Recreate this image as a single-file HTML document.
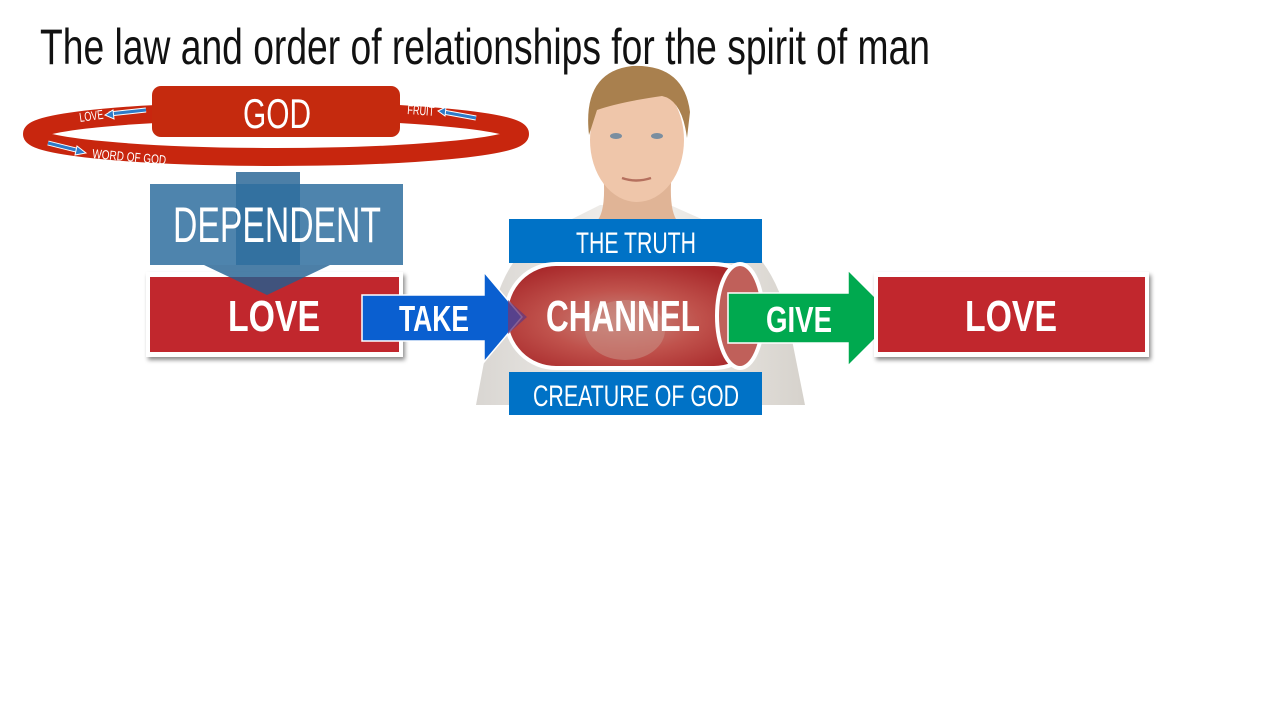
<!DOCTYPE html>
<html><head><meta charset="utf-8"><style>
html,body{margin:0;padding:0;background:#fff;width:1280px;height:720px;overflow:hidden}
svg{display:block}
text{font-family:"Liberation Sans",sans-serif}
</style></head><body>
<svg width="1280" height="720" viewBox="0 0 1280 720" xmlns="http://www.w3.org/2000/svg">
<defs>
<filter id="sh" x="-10%" y="-10%" width="130%" height="140%"><feDropShadow dx="2" dy="3" stdDeviation="2" flood-opacity="0.45"/></filter>
<radialGradient id="eye" cx="0.45" cy="0.55" r="0.6"><stop offset="0" stop-color="#c98a80"/><stop offset="0.5" stop-color="#c0524c"/><stop offset="1" stop-color="#a8282a"/></radialGradient>
<linearGradient id="shirt" x1="0" y1="0" x2="1" y2="0"><stop offset="0" stop-color="#d9d6d2"/><stop offset="0.5" stop-color="#f4f2ef"/><stop offset="1" stop-color="#d6d2cc"/></linearGradient>
</defs>
<text x="40" y="64" font-size="50" font-weight="300" fill="#111" textLength="890" lengthAdjust="spacingAndGlyphs">The law and order of relationships for the spirit of man</text>

<!-- ring -->
<ellipse cx="276" cy="134" rx="244" ry="23" fill="none" stroke="#c8260e" stroke-width="18"/>
<rect x="152" y="86" width="248" height="51" rx="9" fill="#c52a0e"/>
<text x="277" y="128" font-size="42" fill="#fff" text-anchor="middle" textLength="68" lengthAdjust="spacingAndGlyphs">GOD</text>
<text x="80" y="122" font-size="13" fill="#fff" transform="rotate(-8 80 122)" textLength="24" lengthAdjust="spacingAndGlyphs">LOVE</text>
<path d="M109 114 L146 110" stroke="#fff" stroke-width="5"/><path d="M109 114 L146 110" stroke="#2f7bc8" stroke-width="3"/><path d="M105 115 l8 -5 l1 9z" fill="#2f7bc8" stroke="#fff" stroke-width="1"/>
<text x="407" y="114" font-size="13" fill="#fff" transform="rotate(4 407 114)" textLength="27" lengthAdjust="spacingAndGlyphs">FRUIT</text>
<path d="M443 112 L476 118" stroke="#fff" stroke-width="5"/><path d="M443 112 L476 118" stroke="#2f7bc8" stroke-width="3"/><path d="M438 111 l8 -4 l-1 9z" fill="#2f7bc8" stroke="#fff" stroke-width="1"/>
<path d="M48 143 L80 151" stroke="#fff" stroke-width="5"/><path d="M48 143 L80 151" stroke="#2f7bc8" stroke-width="3"/><path d="M86 153 l-9 -7 l-2 9z" fill="#2f7bc8" stroke="#fff" stroke-width="1"/>
<text x="92" y="158" font-size="13" fill="#fff" transform="rotate(5 92 158)" textLength="74" lengthAdjust="spacingAndGlyphs">WORD OF GOD</text>

<!-- LOVE left -->
<rect x="146" y="272" width="257" height="85" fill="#fff" filter="url(#sh)"/>
<rect x="150" y="277" width="249" height="75" fill="#c1272d"/>
<!-- dependent arrow -->
<path d="M236 172 H300 V265 H330 L267 295 L204 265 H236 Z" fill="#1f5f91" opacity="0.8"/>
<rect x="150" y="184" width="253" height="81" fill="#2f6e9f" opacity="0.85"/>
<text x="277" y="242" font-size="50" fill="#fff" text-anchor="middle" textLength="208" lengthAdjust="spacingAndGlyphs">DEPENDENT</text>
<text x="274" y="331" font-size="44" font-weight="bold" fill="#fff" text-anchor="middle" textLength="92" lengthAdjust="spacingAndGlyphs">LOVE</text>

<!-- person -->
<path d="M476 405 L490 330 Q500 250 560 225 L600 205 L670 205 L715 225 Q775 250 790 330 L805 405 Z" fill="url(#shirt)"/>
<path d="M603 170 Q607 212 596 222 L678 222 Q668 210 672 170 Z" fill="#e0b496"/>
<ellipse cx="637" cy="140" rx="47" ry="62" fill="#efc6aa"/>
<path d="M589 135 Q582 72 632 66 Q684 64 690 112 L687 138 Q682 100 662 96 Q620 102 597 110 Z" fill="#a9804e"/>
<ellipse cx="616" cy="136" rx="6" ry="3" fill="#7a8ea0"/><ellipse cx="657" cy="136" rx="6" ry="3" fill="#7a8ea0"/>
<path d="M622 178 Q636 183 651 178" stroke="#b5705e" stroke-width="2.5" fill="none"/>

<!-- truth / creature -->
<rect x="509" y="219" width="253" height="44" fill="#0072c6"/>
<text x="636" y="253" font-size="30" fill="#fff" text-anchor="middle" textLength="120" lengthAdjust="spacingAndGlyphs">THE TRUTH</text>
<rect x="509" y="372" width="253" height="43" fill="#0072c6"/>
<text x="636" y="406" font-size="30" fill="#fff" text-anchor="middle" textLength="206" lengthAdjust="spacingAndGlyphs">CREATURE OF GOD</text>

<!-- channel -->
<rect x="506" y="264" width="258" height="104" rx="50" fill="url(#eye)" stroke="#fff" stroke-width="4"/>
<ellipse cx="740" cy="316" rx="23" ry="52" fill="#c0605a" stroke="#fff" stroke-width="4"/>
<ellipse cx="625" cy="330" rx="40" ry="30" fill="#c88a80" opacity="0.6"/>
<text x="623" y="331" font-size="44" font-weight="bold" fill="#fff" text-anchor="middle" textLength="154" lengthAdjust="spacingAndGlyphs">CHANNEL</text>

<!-- take arrow -->
<path d="M362 295 H484 V272 L522 317 L484 362 V341 H362 Z" fill="#0a5fd0" stroke="#fff" stroke-width="1.5"/>
<path d="M508 300 L527 317 L508 334 Z" fill="#6a3a7a" opacity="0.8"/>
<text x="434" y="331" font-size="36" font-weight="bold" fill="#fff" text-anchor="middle" textLength="70" lengthAdjust="spacingAndGlyphs">TAKE</text>

<!-- give arrow -->
<path d="M728 293 H848 V270 L896 318 L848 366 V343 H728 Z" fill="#00a94f" stroke="#fff" stroke-width="1.5"/>
<text x="799" y="332" font-size="36" font-weight="bold" fill="#fff" text-anchor="middle" textLength="66" lengthAdjust="spacingAndGlyphs">GIVE</text>

<!-- LOVE right -->
<rect x="874" y="272" width="275" height="85" fill="#fff" filter="url(#sh)"/>
<rect x="878" y="277" width="267" height="75" fill="#c1272d"/>
<text x="1011" y="331" font-size="44" font-weight="bold" fill="#fff" text-anchor="middle" textLength="92" lengthAdjust="spacingAndGlyphs">LOVE</text>
</svg>
</body></html>
